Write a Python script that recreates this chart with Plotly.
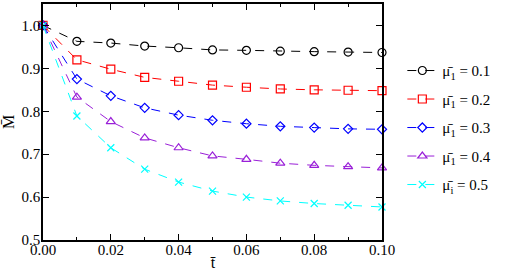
import plotly.graph_objects as go

t = [0.00, 0.01, 0.02, 0.03, 0.04, 0.05, 0.06, 0.07, 0.08, 0.09, 0.10]
m_01 = [1.0, 0.963, 0.959, 0.952, 0.948, 0.943, 0.942, 0.940, 0.939, 0.938, 0.937]
m_02 = [1.0, 0.920, 0.898, 0.879, 0.870, 0.861, 0.856, 0.852, 0.850, 0.849, 0.848]
m_03 = [1.0, 0.875, 0.836, 0.808, 0.791, 0.779, 0.771, 0.765, 0.762, 0.759, 0.758]
m_04 = [1.0, 0.833, 0.776, 0.738, 0.715, 0.696, 0.688, 0.679, 0.674, 0.671, 0.668]
m_05 = [1.0, 0.789, 0.715, 0.665, 0.635, 0.614, 0.600, 0.591, 0.585, 0.581, 0.577]

names = ["μ̄<sub>1</sub> = 0.1", "μ̄<sub>1</sub> = 0.2", "μ̄<sub>1</sub> = 0.3",
         "μ̄<sub>1</sub> = 0.4", "μ̄<sub>i</sub> = 0.5"]
series = [m_01, m_02, m_03, m_04, m_05]
colors = ["#000000", "#ff0000", "#0000ff", "#9a20d8", "#00ffff"]
symbols = ["circle-open", "square-open", "diamond-open", "triangle-up-open", "x-thin-open"]
sizes = [8, 8, 7, 8, 7]

FONT = "Liberation Serif, DejaVu Serif, serif"

fig = go.Figure()
for i, (y, nm, c, s, sz) in enumerate(zip(series, names, colors, symbols, sizes)):
    fig.add_trace(go.Scatter(
        x=t, y=y, name=nm, mode="lines+markers", legendgroup=f"g{i}",
        line=dict(color=c, width=1, dash="dash"), cliponaxis=False,
        marker=dict(symbol=s, size=sz, color=c, line=dict(color=c, width=1.2)),
    ))

axis_common = dict(
    showline=True, linecolor="black", linewidth=1.5, mirror="ticks",
    ticks="inside", tickcolor="black", ticklen=6, tickwidth=1,
    showgrid=False, zeroline=False,
    tickfont=dict(family=FONT, size=15, color="black"),
)

fig.update_xaxes(range=[0, 0.1], dtick=0.02, tick0=0, tickformat=".2f",
                 ticklabelstandoff=-5,
                 minor=dict(dtick=0.01, ticks="inside", ticklen=3, tickcolor="black"),
                 **axis_common)
fig.update_yaxes(range=[0.5, 1.05], dtick=0.1, tick0=0.5, tickformat=".1f",
                 ticklabelstandoff=-2,
                 title=dict(text="M̄", font=dict(family=FONT, size=16, color="black"), standoff=8),
                 **axis_common)

fig.add_annotation(text="t̄", xref="paper", yref="paper", x=0.5, y=0,
                   xanchor="center", yanchor="top", yshift=-12, showarrow=False,
                   font=dict(family=FONT, size=16, color="black"))

fig.update_layout(
    width=508, height=273,
    margin=dict(l=42, r=126, t=2, b=33),
    plot_bgcolor="white", paper_bgcolor="white",
    font=dict(family=FONT, color="black"),
    legend=dict(x=1.06, y=0.787, xanchor="left", yanchor="top",
                font=dict(family=FONT, size=15, color="black"),
                tracegroupgap=6, itemwidth=30, bgcolor="rgba(0,0,0,0)"),
)

fig.write_html("out.html", config={"displayModeBar": False},
               post_script="document.body.style.margin='0';")
